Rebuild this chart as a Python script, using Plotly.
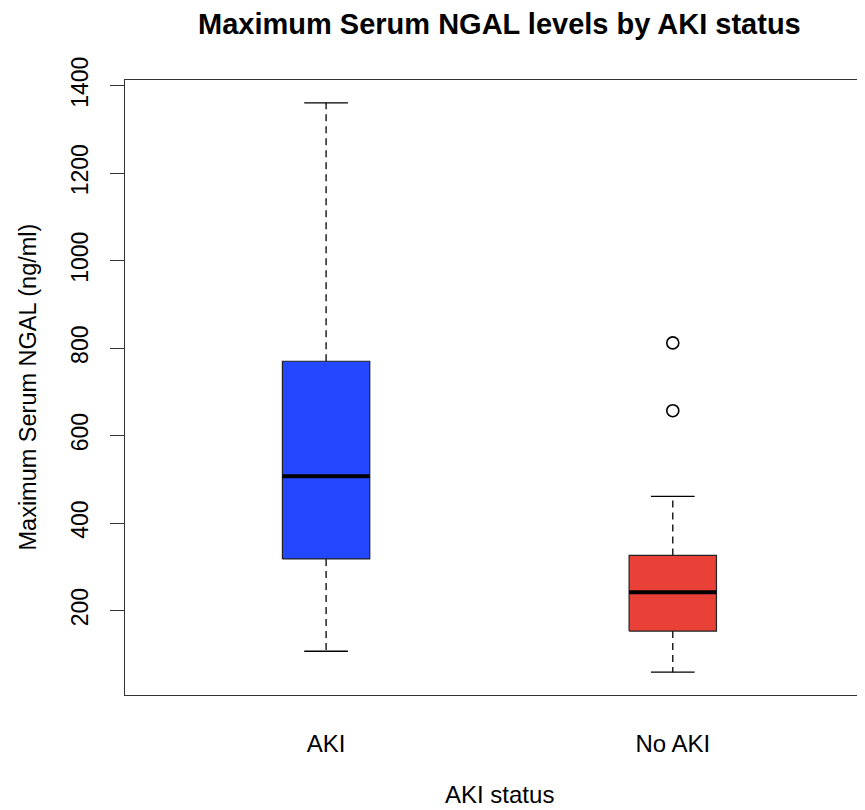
import plotly.graph_objects as go

# ---- data ----
groups = ["AKI", "No AKI"]
lower_whisker = [107, 59]
q1 = [318, 153]
median = [507, 242]
q3 = [770, 326]
upper_whisker = [1361, 461]
outlier_group = ["No AKI", "No AKI"]
outlier_values = [812, 657]
box_colors = ["#2448FF", "#E94137"]
y_ticks = [200, 400, 600, 800, 1000, 1200, 1400]

# ---- styling ----
FONT = "Liberation Sans, Arial, Helvetica, sans-serif"
BOX_HALF = 0.126
CAP_HALF = 0.063
FIG_W, FIG_H = 880, 802
M_L, M_T, M_B = 117, 72, 115
PX_PER_UNIT = 346.7
X_MIN = 0.42
X_MAX = X_MIN + (FIG_W - M_L) / PX_PER_UNIT

positions = [i + 1 for i in range(len(groups))]
pos_of = dict(zip(groups, positions))

fig = go.Figure()
for p, lo, a, m, b, hi, col in zip(positions, lower_whisker, q1, median, q3,
                                   upper_whisker, box_colors):
    # dashed whiskers
    fig.add_trace(go.Scatter(
        x=[p, p, None, p, p], y=[b, hi, None, a, lo], mode="lines",
        line=dict(color="black", width=1.3, dash="7px,5px"),
        hoverinfo="skip", showlegend=False))
    # caps
    fig.add_trace(go.Scatter(
        x=[p - CAP_HALF, p + CAP_HALF, None, p - CAP_HALF, p + CAP_HALF],
        y=[hi, hi, None, lo, lo], mode="lines",
        line=dict(color="black", width=1.3),
        hoverinfo="skip", showlegend=False))
    # box
    fig.add_trace(go.Scatter(
        x=[p - BOX_HALF, p + BOX_HALF, p + BOX_HALF, p - BOX_HALF, p - BOX_HALF],
        y=[a, a, b, b, a], mode="lines", fill="toself", fillcolor=col,
        line=dict(color="#222222", width=1.2),
        hoverinfo="skip", showlegend=False))
    # median
    fig.add_trace(go.Scatter(
        x=[p - BOX_HALF, p + BOX_HALF], y=[m, m], mode="lines",
        line=dict(color="black", width=4),
        hoverinfo="skip", showlegend=False))

fig.add_trace(go.Scatter(
    x=[pos_of[g] for g in outlier_group], y=outlier_values, mode="markers",
    marker=dict(symbol="circle-open", size=12, color="black",
                line=dict(width=1.6, color="black")),
    showlegend=False))

data_min = min(lower_whisker + outlier_values)
data_max = max(upper_whisker + outlier_values)
ext = 0.04 * (data_max - data_min)

fig.update_layout(
    width=FIG_W, height=FIG_H,
    margin=dict(l=M_L, r=0, t=M_T, b=M_B, autoexpand=False),
    paper_bgcolor="white", plot_bgcolor="white",
    font=dict(family=FONT, size=23, color="black"),
    showlegend=False,
    xaxis=dict(
        range=[X_MIN, X_MAX], tickmode="array", tickvals=positions,
        ticktext=groups, showgrid=False, zeroline=False, automargin=False,
        showline=True, linecolor="#333333", linewidth=1.3, mirror=True,
        ticks="", ticklabelstandoff=27,
        tickfont=dict(family=FONT, size=24, color="black"),
    ),
    yaxis=dict(
        range=[data_min - ext, data_max + ext], tickmode="array",
        tickvals=y_ticks, ticktext=[str(v) for v in y_ticks],
        tickangle=-90, showgrid=False, zeroline=False, automargin=False,
        showline=True, linecolor="#333333", linewidth=1.3,
        ticks="outside", ticklen=14, tickcolor="#333333", tickwidth=1.3,
        ticklabelstandoff=13,
        tickfont=dict(family=FONT, size=23, color="black"),
    ),
    annotations=[
        dict(text="<b>Maximum Serum NGAL levels by AKI status</b>",
             xref="x", yref="paper", x=1.5, y=1, yshift=56,
             xanchor="center", yanchor="middle", showarrow=False,
             font=dict(family=FONT, size=29, color="black")),
        dict(text="AKI status", xref="x", yref="paper", x=1.5, y=0,
             yshift=-99, xanchor="center", yanchor="middle",
             showarrow=False, font=dict(family=FONT, size=24, color="black")),
        dict(text="Maximum Serum NGAL (ng/ml)", xref="paper", yref="paper",
             x=0, y=0.5, xshift=-98, xanchor="center", yanchor="middle",
             textangle=-90, showarrow=False,
             font=dict(family=FONT, size=23.5, color="black")),
    ],
)

fig.write_html("out.html")
